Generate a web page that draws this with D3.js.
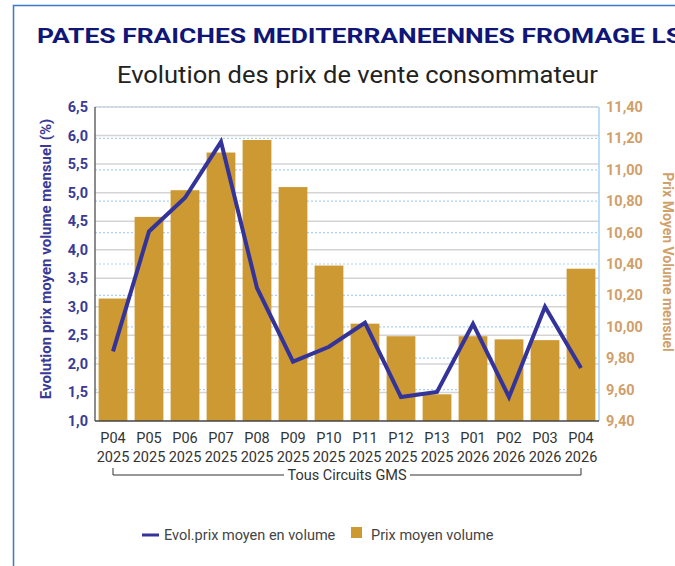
<!DOCTYPE html>
<html>
<head>
<meta charset="utf-8">
<script src="https://cdn.jsdelivr.net/npm/d3@7"></script>
<style>
  body { margin: 0; background: #fff; overflow: hidden; }
  svg { display: block; font-family: Roboto, "Noto Sans", sans-serif; }
</style>
</head>
<body>
<svg id="chart" width="675" height="566"></svg>
<script>
// periods
var periods = ["P04", "P05", "P06", "P07", "P08", "P09", "P10", "P11", "P12", "P13", "P01", "P02", "P03", "P04"];
var years = ["2025", "2025", "2025", "2025", "2025", "2025", "2025", "2025", "2025", "2025", "2026", "2026", "2026", "2026"];
// Prix moyen volume (right axis)
var prix = [10.18, 10.70, 10.87, 11.11, 11.19, 10.89, 10.39, 10.02, 9.94, 9.57, 9.94, 9.92, 9.915, 10.37];
// Evol. prix moyen en volume % (left axis)
var evol = [2.22, 4.32, 4.91, 5.89, 3.33, 2.04, 2.30, 2.72, 1.42, 1.51, 2.70, 1.42, 3.00, 1.93];
var leftTicks = [1.0, 1.5, 2.0, 2.5, 3.0, 3.5, 4.0, 4.5, 5.0, 5.5, 6.0, 6.5];
var rightTicks = [9.4, 9.6, 9.8, 10.0, 10.2, 10.4, 10.6, 10.8, 11.0, 11.2, 11.4];

var svg = d3.select("#chart");
var plotL = 95, plotR = 599, plotT = 107, plotB = 421;
var comma = function (v, n) { return v.toFixed(n).replace(".", ","); };

// frame
svg.append("rect").attr("x", 13.5).attr("y", 5.5).attr("width", 700).attr("height", 600)
    .attr("fill", "none").attr("stroke", "#3a78c8").attr("stroke-width", 1.5);

svg.append("text").attr("x", 37).attr("y", 43)
    .attr("font-size", 20).attr("font-weight", "bold").attr("fill", "#0f1677")
    .attr("textLength", 645).attr("lengthAdjust", "spacingAndGlyphs")
    .text("PATES FRAICHES MEDITERRANEENNES FROMAGE LS");
svg.append("text").attr("x", 117).attr("y", 83)
    .attr("font-size", 23).attr("fill", "#222")
    .attr("textLength", 481).attr("lengthAdjust", "spacingAndGlyphs")
    .text("Evolution des prix de vente consommateur");

var x = d3.scaleBand().domain(d3.range(periods.length)).range([plotL, plotR]).paddingInner(0.2).paddingOuter(0.1);
var yL = d3.scaleLinear().domain([1, 6.5]).range([plotB, plotT]);
var yR = d3.scaleLinear().domain([9.4, 11.4]).range([plotB, plotT]);

// gridlines
svg.append("g").selectAll("line").data(leftTicks.slice(1)).enter().append("line")
    .attr("x1", plotL).attr("x2", plotR).attr("y1", d => yL(d)).attr("y2", d => yL(d))
    .attr("stroke", "#d4d4d4").attr("stroke-width", 1.5);
svg.append("g").selectAll("line").data(rightTicks.slice(1)).enter().append("line")
    .attr("x1", plotL).attr("x2", plotR).attr("y1", d => yR(d)).attr("y2", d => yR(d))
    .attr("stroke", "#a9d2f5").attr("stroke-width", 1.2).attr("stroke-dasharray", "2,2");

// bars
svg.append("g").selectAll("rect").data(prix).enter().append("rect")
    .attr("x", (d, i) => x(i)).attr("width", x.bandwidth())
    .attr("y", d => yR(d)).attr("height", d => plotB - yR(d))
    .attr("fill", "#cc9933");

// axis lines
svg.append("line").attr("x1", plotL).attr("x2", plotL).attr("y1", plotT).attr("y2", plotB)
    .attr("stroke", "#666").attr("stroke-width", 1.5);
svg.append("line").attr("x1", plotR).attr("x2", plotR).attr("y1", plotT).attr("y2", plotB)
    .attr("stroke", "#a9d2f5").attr("stroke-width", 1.5);
svg.append("line").attr("x1", plotL).attr("x2", plotR).attr("y1", plotB).attr("y2", plotB)
    .attr("stroke", "#444").attr("stroke-width", 1.5);

// line
var line = d3.line().x((d, i) => x(i) + x.bandwidth() / 2).y(d => yL(d));
svg.append("path").datum(evol).attr("d", line)
    .attr("fill", "none").attr("stroke", "#333399").attr("stroke-width", 4);

// left ticks
svg.append("g").selectAll("text").data(leftTicks).enter().append("text")
    .attr("x", 88).attr("y", d => yL(d) + 5).attr("text-anchor", "end")
    .attr("font-size", 14.5).attr("font-weight", "bold").attr("fill", "#3a3a96")
    .text(d => comma(d, 1));
// right ticks
svg.append("g").selectAll("text").data(rightTicks).enter().append("text")
    .attr("x", 606).attr("y", d => yR(d) + 5)
    .attr("font-size", 14.5).attr("font-weight", "bold").attr("fill", "#d0a06a")
    .text(d => comma(d, 2));

// axis titles
svg.append("text").attr("transform", "translate(51,259) rotate(-90)").attr("text-anchor", "middle")
    .attr("font-size", 15).attr("font-weight", "bold").attr("fill", "#3a3a96")
    .text("Evolution prix moyen volume mensuel (%)");
svg.append("text").attr("transform", "translate(663,262) rotate(90)").attr("text-anchor", "middle")
    .attr("font-size", 14).attr("font-weight", "bold").attr("fill", "#d0a06a")
    .text("Prix Moyen Volume mensuel");

// x labels
var xl = svg.append("g").selectAll("text").data(periods).enter().append("text")
    .attr("text-anchor", "middle").attr("font-size", 14.5).attr("fill", "#333");
xl.append("tspan").attr("x", (d, i) => x(i) + x.bandwidth() / 2).attr("y", 443).text(d => d);
xl.append("tspan").attr("x", (d, i) => x(i) + x.bandwidth() / 2).attr("y", 462).text((d, i) => years[i]);

// group bracket
var bx1 = x(0) + x.bandwidth() / 2, bx2 = x(periods.length - 1) + x.bandwidth() / 2;
svg.append("path").attr("d", "M" + bx1 + ",468V475H284M410,475H" + bx2 + "V468")
    .attr("fill", "none").attr("stroke", "#333").attr("stroke-width", 1);
svg.append("text").attr("x", 347).attr("y", 480).attr("text-anchor", "middle")
    .attr("font-size", 14.5).attr("fill", "#333").text("Tous Circuits GMS");

// legend
svg.append("line").attr("x1", 142).attr("x2", 159).attr("y1", 535).attr("y2", 535)
    .attr("stroke", "#333399").attr("stroke-width", 3);
svg.append("text").attr("x", 164).attr("y", 540).attr("font-size", 14.5).attr("fill", "#444")
    .text("Evol.prix moyen en volume");
svg.append("rect").attr("x", 351).attr("y", 527).attr("width", 11).attr("height", 11).attr("fill", "#cc9933");
svg.append("text").attr("x", 371).attr("y", 540).attr("font-size", 14.5).attr("fill", "#444")
    .text("Prix moyen volume");
</script>
</body>
</html>
